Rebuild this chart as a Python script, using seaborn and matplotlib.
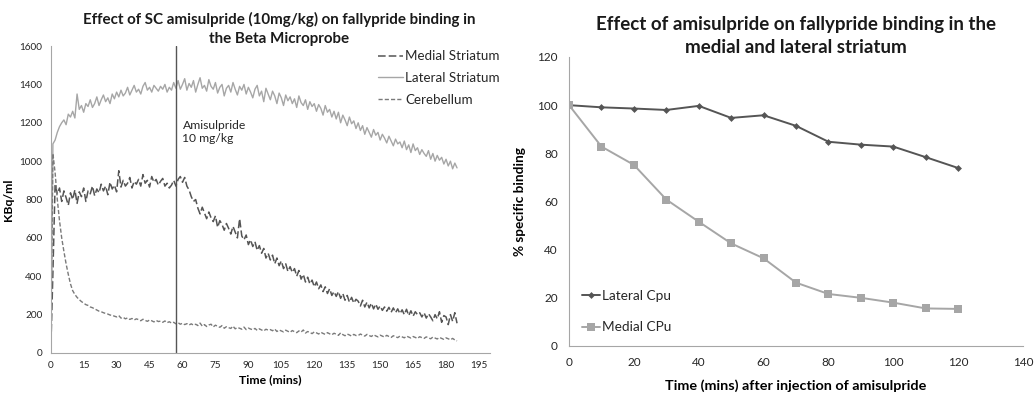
import matplotlib
matplotlib.use("Agg")
import matplotlib.pyplot as plt
import seaborn as sns
import numpy as np
import pandas as pd

# ---------------- data: left panel (Beta microprobe time course) ----------------
time_mins = list(range(0, 186))

lateral_striatum = [
    0, 1090, 1110, 1150, 1180, 1200, 1215, 1190, 1245, 1230,
    1260, 1225, 1350, 1270, 1290, 1255, 1300, 1285, 1320, 1280,
    1300, 1335, 1290, 1320, 1345, 1310, 1330, 1300, 1350, 1325,
    1360, 1335, 1370, 1340, 1355, 1385, 1345, 1370, 1395, 1360,
    1375, 1350, 1390, 1410, 1370, 1385, 1360, 1395, 1380, 1365,
    1390, 1375, 1400, 1360, 1385, 1370, 1410, 1380, 1420, 1375,
    1400, 1430, 1370, 1405, 1385, 1420, 1360, 1400, 1435, 1380,
    1395, 1365, 1425, 1390, 1375, 1410, 1355, 1385, 1400, 1340,
    1380, 1395, 1360, 1410, 1375, 1345, 1390, 1370, 1400, 1350,
    1385, 1360, 1330, 1375, 1395, 1340, 1365, 1310, 1380, 1350,
    1320, 1365, 1340, 1300, 1355, 1330, 1290, 1345, 1315, 1335,
    1300, 1325, 1280, 1340, 1305, 1290, 1320, 1270, 1310, 1285,
    1300, 1260, 1295, 1275, 1240, 1290, 1255, 1270, 1230, 1260,
    1220, 1255, 1200, 1240, 1215, 1185, 1230, 1195, 1210, 1170,
    1200, 1160, 1185, 1140, 1175, 1150, 1125, 1165, 1135, 1150,
    1110, 1140, 1120, 1095, 1130, 1105, 1080, 1115, 1090, 1100,
    1070, 1105, 1060, 1085, 1045, 1090, 1055, 1070, 1035, 1060,
    1040, 1025, 1055, 1010, 1040, 1000, 1030, 1005, 1020, 985,
    1010, 975, 1000, 960, 990, 965,
]

medial_striatum = [
    0, 420, 880, 830, 860, 790, 845, 810, 770, 835,
    800, 850, 780, 840, 815, 860, 790, 845, 830, 870,
    820, 855, 835, 880, 845, 870, 825, 890, 855, 875,
    840, 950, 865, 900, 870, 885, 915, 860, 895, 880,
    905, 870, 930, 885, 900, 865, 920, 890, 905, 875,
    895, 910, 870, 885, 860, 875, 900, 870, 905, 920,
    890, 915, 870, 850, 815, 790, 800, 755, 725, 760,
    730, 700, 735, 705, 685, 715, 655, 690, 670, 640,
    675, 650, 620, 660, 630, 600, 700, 610, 590, 615,
    565, 590, 555, 580, 535, 560, 520, 545, 495, 520,
    485, 510, 465, 495, 455, 480, 440, 465, 425, 450,
    420, 440, 400, 430, 385, 410, 370, 395, 360, 380,
    345, 370, 335, 355, 320, 345, 310, 335, 300, 320,
    295, 320, 285, 310, 275, 300, 265, 290, 260, 280,
    270, 245, 275, 240, 265, 235, 260, 230, 255, 228,
    245, 222, 240, 218, 238, 212, 235, 210, 230, 205,
    225, 200, 228, 195, 220, 192, 215, 200, 210, 188,
    210, 182, 205, 188, 168, 200, 178, 215, 160, 195,
    188, 148, 200, 165, 210, 155,
]

cerebellum = [
    0, 1040, 940, 800, 690, 600, 530, 465, 410, 360,
    325, 305, 290, 278, 268, 260, 252, 248, 240, 236,
    230, 224, 218, 215, 210, 206, 203, 198, 196, 192,
    188, 195, 182, 186, 178, 183, 175, 180, 172, 178,
    174, 168, 176, 170, 165, 172, 168, 162, 170, 164,
    166, 160, 167, 158, 163, 156, 160, 152, 158, 150,
    155, 148, 153, 146, 152, 145, 150, 143, 156, 140,
    148, 138, 146, 150, 136, 145, 139, 134, 143, 129,
    137, 132, 128, 140, 126, 133, 129, 124, 135, 122,
    130, 125, 121, 128, 118, 126, 120, 115, 124, 119,
    122, 116, 125, 112, 120, 115, 110, 119, 113, 108,
    117, 111, 106, 115, 109, 120, 104, 112, 107, 101,
    110, 105, 99, 108, 102, 97, 106, 100, 95, 103,
    98, 92, 105, 96, 90, 99, 94, 88, 97, 91,
    91, 99, 93, 88, 97, 91, 86, 95, 89, 84,
    93, 88, 83, 92, 86, 81, 90, 85, 80, 88,
    84, 79, 88, 83, 78, 86, 81, 76, 85, 80,
    76, 84, 79, 74, 83, 78, 73, 81, 76, 71,
    79, 74, 69, 76, 68, 63,
]

injection_time = 57
left_xticks = list(range(0, 196, 15))
left_yticks = list(range(0, 1601, 200))

# ---------------- data: right panel (% specific binding) ----------------
time_after_injection = [0, 10, 20, 30, 40, 50, 60, 70, 80, 90, 100, 110, 120]
lateral_cpu = [100, 99.1, 98.6, 98.0, 99.7, 94.7, 95.8, 91.4, 84.8, 83.6, 82.8, 78.4, 73.9]
medial_cpu = [100, 82.8, 75.2, 60.8, 51.6, 42.6, 36.4, 26.3, 21.6, 20.0, 18.0, 15.6, 15.4]
right_xticks = list(range(0, 141, 20))
right_yticks = list(range(0, 121, 20))

# ---------------- styling ----------------
sns.set_theme(style="white")
plt.rcParams['font.family'] = ['Lato', 'DejaVu Sans']

AX_COL = '#A6A6A6'
DARK = '#555555'
MID = '#7A7A7A'
LIGHT = '#A6A6A6'
TXT = '#262626'

fig = plt.figure(figsize=(10.35, 3.93), dpi=100)

# ---------------- left panel ----------------
axL = fig.add_axes([0.049, 0.1018, 0.4244, 0.781])
dfL = pd.DataFrame({'t': time_mins, 'lat': lateral_striatum,
                    'med': medial_striatum, 'cer': cerebellum})
sns.lineplot(data=dfL, x='t', y='med', ax=axL, color=DARK, lw=1.1,
             linestyle=(0, (5, 2)), label='Medial Striatum')
sns.lineplot(data=dfL, x='t', y='lat', ax=axL, color=LIGHT, lw=1.0,
             linestyle='-', label='Lateral Striatum')
sns.lineplot(data=dfL, x='t', y='cer', ax=axL, color=MID, lw=1.0,
             linestyle=(0, (3, 1.5)), label='Cerebellum')
axL.axvline(injection_time, color=DARK, lw=1.0)
axL.text(injection_time + 3, 1215, 'Amisulpride\n10 mg/kg', fontsize=8.7,
         color=TXT, va='top', ha='left', linespacing=1.2)

axL.set_xlim(0, 200)
axL.set_ylim(0, 1600)
axL.set_xticks(left_xticks)
axL.set_yticks(left_yticks)
axL.tick_params(axis='both', labelsize=7.2, colors=TXT, length=0, pad=6)
axL.set_xlabel('Time (mins)', fontsize=8.8, fontweight='bold', color='black', labelpad=3)
axL.set_ylabel('KBq/ml', fontsize=8.8, fontweight='bold', color='black', labelpad=4)
axL.set_title('Effect of SC amisulpride (10mg/kg) on fallypride binding in\nthe Beta Microprobe',
              fontsize=10.9, fontweight='bold', color='#1a1a1a', pad=2, x=0.52, linespacing=1.45)
for s in ['top', 'right']:
    axL.spines[s].set_visible(False)
for s in ['left', 'bottom']:
    axL.spines[s].set_color(AX_COL)
    axL.spines[s].set_linewidth(0.8)
legL = axL.legend(loc='upper left', bbox_to_anchor=(0.365, 0.872), bbox_transform=fig.transFigure,
                  frameon=False, fontsize=9.6, handlelength=1.9, handletextpad=0.15,
                  labelspacing=0.72, borderaxespad=0, borderpad=0)
for t in legL.get_texts():
    t.set_color(TXT)

# ---------------- right panel ----------------
axR = fig.add_axes([0.5498, 0.1196, 0.4386, 0.7354])
dfR = pd.DataFrame({'t': time_after_injection, 'lat': lateral_cpu, 'med': medial_cpu})
sns.lineplot(data=dfR, x='t', y='lat', ax=axR, color=DARK, lw=1.4, marker='D',
             markersize=3.5, markeredgewidth=0, label='Lateral Cpu')
sns.lineplot(data=dfR, x='t', y='med', ax=axR, color=LIGHT, lw=1.4, marker='s',
             markersize=5.5, markeredgewidth=0, label='Medial CPu')
axR.set_xlim(0, 140)
axR.set_ylim(0, 120)
axR.set_xticks(right_xticks)
axR.set_yticks(right_yticks)
axR.tick_params(axis='both', labelsize=8.5, colors=TXT, length=0, pad=8)
axR.set_xlabel('Time (mins) after injection of amisulpride', fontsize=10.4,
               fontweight='bold', color='black', labelpad=8)
axR.set_ylabel('% specific binding', fontsize=9.8, fontweight='bold', color='black', labelpad=8)
axR.set_title('Effect of amisulpride on fallypride binding in the\nmedial and lateral striatum',
              fontsize=13.5, fontweight='bold', color='#1a1a1a', pad=3, linespacing=1.4)
for s in ['top', 'right']:
    axR.spines[s].set_visible(False)
for s in ['left', 'bottom']:
    axR.spines[s].set_color(AX_COL)
    axR.spines[s].set_linewidth(0.8)
legR = axR.legend(loc='upper left', bbox_to_anchor=(0.5625, 0.262), bbox_transform=fig.transFigure,
                  frameon=False, fontsize=9.8, handlelength=1.3, handletextpad=0.15,
                  labelspacing=1.42, borderaxespad=0, borderpad=0)
for t in legR.get_texts():
    t.set_color(TXT)

fig.savefig('out.png', dpi=100)
